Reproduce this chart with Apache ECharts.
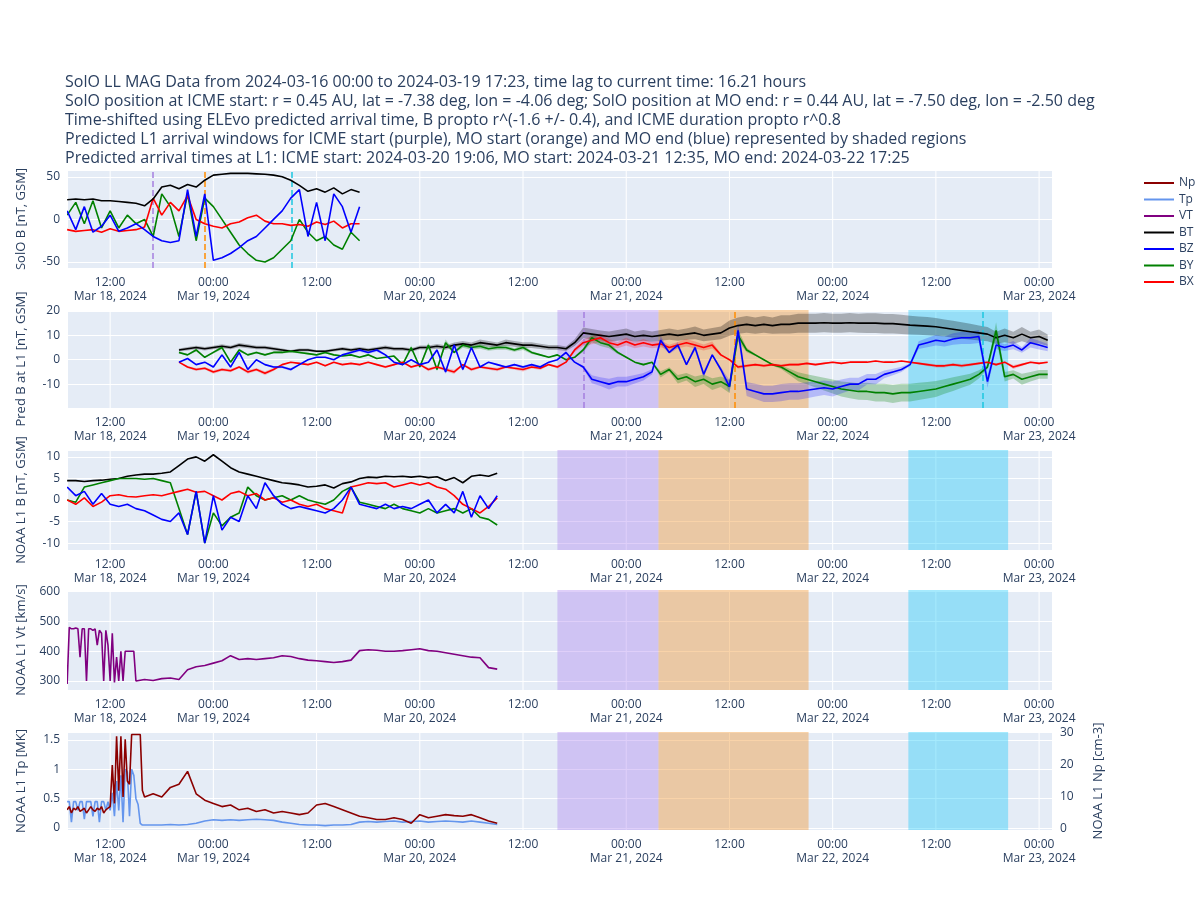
<!DOCTYPE html>
<html><head><meta charset="utf-8">
<script src="https://cdn.jsdelivr.net/npm/echarts@6/dist/echarts.min.js"></script>
<style>html,body{margin:0;padding:0;background:#fff}#c{width:1200px;height:900px}</style>
</head><body><div id="c"></div>
<script>
// hours relative to 2024-03-18 12:00 UTC
const solo_h0 = -5;
const soloBT = [23,24,23,24,22,22,21,20,19,16, 24,38,40,36,41,38,46,52,53,54, 54,54,53.5,53,52,50,46,40,33,36, 32,37,30,35,32];
const soloBZ = [10,-12,15,-15,-8,5,-14,-10,-5,-12, -20,-25,-27,-25,35,-20,30,-48,-45,-40, -33,-25,-20,-10,0,10,25,35,-20,20, -25,30,15,-15,15];
const soloBY = [5,20,-5,22,-10,10,-10,5,-5,0, -20,30,15,-20,30,-25,25,15,0,-15, -30,-40,-48,-50,-45,-35,-25,0,-15,-25, -20,-30,-35,-15,-25];
const soloBX = [-12,-14,-13,-12,-15,-11,-14,-13,-12,-9, 25,5,20,10,28,0,-5,-8,-10,-5, -3,2,5,-2,-5,-5,-7,-6,-8,-3, -6,-2,-10,-5,-5];

const pred_h0 = 8;
const predBT = [4,4.5,5,4.5,5,5.5,5,6,5.5,5, 5,4.5,4,3.5,4,4,3.5,3.5,4,4.5, 4,4.5,4,4.5,5,4.5,4.5,4,5,5, 5.5,5,6,6.5,6,7,6.5,6,7,6.5, 6,6,5.5,5,5,4.5,7,11,10.5,10, 9.5,10,10.5,9.5,10,9.5,10,10.5,10,10.5, 11,10,10.5,11,13,14,14.5,14,14.5,14, 14.5,14.5,15,15,15,15.2,15,15,15.2,15, 15,15,14.8,14.8,14.5,14.2,14,13.8,13.5,13, 12.5,12,11.5,11,10.5,9,10,9,10.5,9, 9.5,8];
const predBZ = [-1,0.5,-2,-1,-3,2,-3,3,-4,0, -2,-3,-3,-4,-2,0,1,1,0,2, 3,4,3,4,2,-1,-2,0,-2,-1, 4,-5,6,-4,5,-3,-1,-2,-3,-2, -3,-2,-3,-1,0,3,-1,-3,-8,-9, -10,-9,-9,-8,-7,-5,8,3,6,-2, 5,-6,2,-4,-11,12,-12,-13,-14,-14, -13.5,-13,-13,-12.5,-12,-11.5,-12,-11,-10,-10, -8,-8,-6,-5,-4,-2,6,7,8,7.5, 8.5,9,9,9.5,-9,6,5,6,4,7, 6,5];
const predBY = [3,2,4,1,3,5,-1,4,2,3, 2,3,3,3.5,3,2.5,2,3,2,1.5, 2,1,2,0.5,1,1.5,-2,5,-3,6, -4,7,3,6,5,5.5,4.5,5,5,4, 5,3,2,1,2,0,1,4,9,7, 6,3,1,-1,-2,-1,-6,-4,-8,-7, -9,-8,-10,-9,-11,10,4,2,0,-2, -3,-5,-7,-8,-9,-10,-11,-12,-12.5,-13, -13,-13.5,-13.5,-14,-13.5,-13.5,-13,-12.5,-12,-11, -10,-9,-8,-6,-3,12,-7,-6,-8,-7, -6,-6];
const predBX = [-1,-3,-4,-3.5,-5,-4,-4.5,-3,-5,-4, -5.5,-4,-2,-1,-1.5,-2,-1,-2.5,-1,-2, -1.5,-2,-1,-2,-3,-2,-1,-3,-2,-4, -3,-4,-5,-2,-4,-3,-3.5,-4,-3,-3.5, -4,-3,-3.5,-2,-3,-1,4,7,8,9, 7,6,7.5,6,7,6,6.5,5,6,7, 6,5,6,2,0,-3,-2.5,-2,-2.5,-2, -2.5,-2,-2,-1.5,-2,-1.5,-1,-1.5,-1,-1, -1,-0.5,-1,-1,-0.5,-1,-1.5,-2,-2.5,-2.5, -2,-2.5,-2,-1.5,-1,-2,-1,-3,-2,-1, -1.5,-1];
// relative uncertainty per 10-hour block of the prediction
const predUncert = [0.15,0.15,0.17,0.18,0.2,0.22,0.24,0.26,0.27,0.28,0.3];

const noaa_h0 = -5;
const noaaBT = [4.5,4.5,4.3,4.5,4.6,4.8,5,5.5,5.8,6, 6,6.2,6.5,8,9.5,10,9,10.5,9,7.5, 6.5,6,5.5,5,4.5,4,3.8,3.5,3,3.2, 3.5,2.8,3.8,4.2,5,5.3,5.2,5.5,5.4,5.5, 5.3,5.5,5.2,5.4,4.5,5.2,4,5.5,5.8,5.5, 6.2];
const noaaBZ = [3,1,2,-1,1.5,-1,-1.5,-1,-2,-2.5, -3.5,-4.5,-5,-3,-8,2,-10,1,-7,-4, -5,1,-2,4,1,-1,-2,-1.5,-2,-2.5, -3,-2,0,3,-1,-1.5,-2,-1,-2,-1.5, -2,-1,0,-3,-1,-3,2,-4,1,-2, 1];
const noaaBY = [0,-0.5,3,3.5,4,4.5,5,5,5,4.8, 5,4.5,4,-2,-8,2,-10,-3,-6,-4, -3,3,1,0,0.5,1,0,1,0,-0.5, -1,0,2,3,-0.5,-1,-1.5,-2,-1,-2, -2.5,-3,-2,-3,-2.5,-2,-3,-2,-4,-4.5, -5.8];
const noaaBX = [0,-1,0.5,-1.5,-0.5,1,1.2,0.8,0.7,1, 1.2,1,1.5,2,2.5,1.8,2,1,0,1.5, 2,1,1.5,0,0.5,-0.5,0,-1,-1.5,-1, -2,-2.5,-3,3,3.5,4,3.8,4,3,3.5, 4,3.5,4,3,2.5,1,-1,-2,-3,-1.5, 0.5];

const vtEarly_h0 = -5, vtEarly_step = 0.25;
const vtEarly = [290,480,475,475,478,475,380,475,475,300,475,475,470,475,420,470,460,300,470,420,300,460,295,380,300,400,300,400,400,400,400,400];
const vtLate_h0 = 3;
const vtLate = [300,305,302,308,310,305,338,348,352,360, 368,385,372,375,372,375,378,385,382,375, 370,368,365,362,365,370,402,405,403,400, 400,402,405,408,402,400,395,390,385,380, 378,345,340];

const plEarly_h0 = -5, plEarly_step = 0.25;
const tpEarly = [0.45,0.45,0.1,0.45,0.45,0.3,0.45,0.45,0.15,0.45,0.45,0.45,0.2,0.45,0.45,0.1,0.45,0.45,0.3,0.45, 0.3,0.6,0.2,0.8,0.3,0.9,0.1,1.0,0.95,0.2,1.0,0.9,0.5,0.4,0.08,0.05];
const npEarly = [6,7,5,6.5,6,7,5.5,6,6.5,5,6,7,6,5.5,6.5,6,7,5,6,6.5, 7,20,8,29,12,29,10,28,15,14,29.5,29.5,29.5,29.5,29.5,12];
const plLate_h0 = 4;
const tpLate = [0.05,0.05,0.05,0.06,0.05,0.06,0.08,0.12,0.14,0.13, 0.14,0.13,0.14,0.15,0.14,0.13,0.1,0.08,0.06,0.05, 0.05,0.04,0.05,0.05,0.06,0.1,0.11,0.1,0.11,0.12, 0.1,0.11,0.12,0.1,0.11,0.12,0.11,0.1,0.12,0.1, 0.08,0.06];
const npLate = [10,11,10,13,14,18,11,9,8,7, 7.5,6,6.5,5.5,6,5,5.5,5,4.5,5, 7.5,8,7,6,5,4,3.5,3,3,3.5, 3,1.8,4.5,3.5,4,4.5,4.2,4,4.5,3.5, 2.5,1.8];

const windows = [[52.0,63.75,'rgba(170,130,240,0.38)'],[63.75,81.2,'rgba(240,150,50,0.42)'],[92.8,104.4,'rgba(20,200,250,0.38)']];
const soloEvents = [[5.0,'#a57fe0'],[11.0,'#ff8c00'],[21.1,'#1cc6e0']];
const predEvents = [[55.1,'#a57fe0'],[72.6,'#ff8c00'],[101.4,'#1cc6e0']];
// x grid lines every 12 hours
const gridHours = [0,12,24,36,48,60,72,84,96,108];

const H = 3600e3, base = Date.UTC(2024,2,18,12);
const T = h => base + h*H;
const mk = (h0, step, arr) => arr.map((v,i)=>[T(h0+i*step), v]);

const C = {Np:'#8b0000',Tp:'#6495ed',VT:'#800080',BT:'#000000',BZ:'#0000ff',BY:'#008000',BX:'#ff0000'};
const txt = '#2a3f5f';
const font = 'Open Sans';
const tops = [170,310,450,590,732], hts = [98,98,100,100,98];

const grids = tops.map((t,i)=>({left:68, width:984, top:t, height:hts[i], show:true, backgroundColor:'#E5ECF6', borderWidth:0}));
const lbl = {color:txt, fontFamily:font, fontSize:12, lineHeight:14, hideOverlap:false, showMinLabel:false, showMaxLabel:false};
const xMain = tops.map((t,i)=>({
  type:'time', gridIndex:i, min:T(-4.9), max:T(109.5), splitNumber:6, position:'bottom',
  axisLine:{show:false}, axisTick:{show:false}, splitLine:{show:false},
  axisLabel:Object.assign({}, lbl, {formatter:v=>{const d=new Date(v);
      return d.getUTCHours()===0 ? '00:00\nMar '+d.getUTCDate()+', 2024' : '';}})
}));
const xOver = tops.map((t,i)=>({
  type:'time', gridIndex:i, min:T(-4.9), max:T(109.5), splitNumber:10, position:'bottom', offset:0,
  axisLine:{show:false}, axisTick:{show:false}, splitLine:{show:false},
  axisLabel:Object.assign({}, lbl, {formatter:v=>{const d=new Date(v);
      if(d.getUTCHours()!==12) return '';
      return d.getUTCDate()===18 ? '12:00\nMar 18, 2024' : '12:00';}})
}));
function yax(i, min, max, split, name, extra){
  return Object.assign({type:'value', gridIndex:i, min, max, splitNumber:split, name, nameLocation:'middle', nameGap:40,
    nameTextStyle:{color:txt, fontFamily:font, fontSize:13},
    axisLine:{show:false}, axisTick:{show:false}, splitLine:{lineStyle:{color:'#fff', width:1}},
    axisLabel:{color:txt, fontFamily:font, fontSize:12, showMinLabel:false, showMaxLabel:false}}, extra||{});
}
const yAxes = [
  yax(0,-57,58,2,'SolO B [nT, GSM]'),
  yax(1,-19.8,20.4,4,'Pred B at L1 [nT, GSM]'),
  yax(2,-11.6,11.6,4,'NOAA L1 B [nT, GSM]'),
  yax(3,270,605,3,'NOAA L1 Vt [km/s]'),
  yax(4,-0.034,1.636,3,'NOAA L1 Tp [MK]'),
  yax(4,-0.3,30.3,3,'NOAA L1 Np [cm-3]',{position:'right', nameRotate:90, nameGap:40, splitLine:{show:false}})
];

const series = [];
const halfPx = 0.06; // hours, ~half a pixel
[0,1,2,3,4].forEach(i=>series.push({type:'line', xAxisIndex:i, yAxisIndex:i, data:[], z:0, silent:true,
  markArea:{silent:true, animation:false,
    data: gridHours.map(h=>[{xAxis:T(h-halfPx), itemStyle:{color:'#ffffff'}},{xAxis:T(h+halfPx)}])}}));
function line(name, gi, yi, data, w){
  series.push({type:'line', name, xAxisIndex:gi, yAxisIndex:yi, data, showSymbol:false, symbol:'none',
    lineStyle:{color:C[name], width:w||1.6}, itemStyle:{color:C[name]}, z:5, animation:false});
}
function shading(gi, yi){
  series.push({type:'line', xAxisIndex:gi, yAxisIndex:yi, data:[], z:3, silent:true,
    markArea:{silent:true, data: windows.map(w=>[{xAxis:T(w[0]), itemStyle:{color:w[2]}},{xAxis:T(w[1])}])}});
}
function vlines(gi, yi, ev){
  series.push({type:'line', xAxisIndex:gi, yAxisIndex:yi, data:[], z:6, silent:true,
    markLine:{silent:true, symbol:'none', label:{show:false},
      data: ev.map(e=>({xAxis:T(e[0]), lineStyle:{color:e[1], type:'dashed', width:1.5}}))}});
}
line('BY',0,0,mk(solo_h0,1,soloBY)); line('BX',0,0,mk(solo_h0,1,soloBX)); line('BZ',0,0,mk(solo_h0,1,soloBZ)); line('BT',0,0,mk(solo_h0,1,soloBT));
vlines(0,0,soloEvents);
shading(1,1);
const bandCol = {BT:'rgba(0,0,0,0.38)',BZ:'rgba(0,0,255,0.3)',BY:'rgba(0,128,0,0.38)',BX:'rgba(255,0,0,0.3)'};
function band(name, arr){
  const lo=[], df=[];
  arr.forEach((v,i)=>{const h=pred_h0+i; const f=predUncert[Math.min(predUncert.length-1,Math.floor((h-pred_h0)/10))];
    lo.push([T(h), v-Math.abs(v)*f]); df.push([T(h), 2*Math.abs(v)*f]);});
  series.push({type:'line', xAxisIndex:1, yAxisIndex:1, data:lo, stack:'s'+name, stackStrategy:'all', symbol:'none', lineStyle:{opacity:0}, z:4, silent:true});
  series.push({type:'line', xAxisIndex:1, yAxisIndex:1, data:df, stack:'s'+name, stackStrategy:'all', symbol:'none', lineStyle:{opacity:0}, areaStyle:{color:bandCol[name]}, z:4, silent:true});
}
band('BT',predBT); band('BY',predBY); band('BX',predBX); band('BZ',predBZ);
line('BT',1,1,mk(pred_h0,1,predBT)); line('BY',1,1,mk(pred_h0,1,predBY)); line('BX',1,1,mk(pred_h0,1,predBX)); line('BZ',1,1,mk(pred_h0,1,predBZ));
vlines(1,1,predEvents);
shading(2,2);
line('BT',2,2,mk(noaa_h0,1,noaaBT)); line('BY',2,2,mk(noaa_h0,1,noaaBY)); line('BX',2,2,mk(noaa_h0,1,noaaBX)); line('BZ',2,2,mk(noaa_h0,1,noaaBZ));
shading(3,3);
line('VT',3,3,mk(vtEarly_h0,vtEarly_step,vtEarly).concat(mk(vtLate_h0,1,vtLate)));
shading(4,4);
line('Tp',4,4,mk(plEarly_h0,plEarly_step,tpEarly).concat(mk(plLate_h0,1,tpLate)));
line('Np',4,5,mk(plEarly_h0,plEarly_step,npEarly).concat(mk(plLate_h0,1,npLate)));

const title = [
 'SolO LL MAG Data from 2024-03-16 00:00 to 2024-03-19 17:23, time lag to current time: 16.21 hours',
 'SolO position at ICME start: r = 0.45 AU, lat = -7.38 deg, lon = -4.06 deg; SolO position at MO end: r = 0.44 AU, lat = -7.50 deg, lon = -2.50 deg',
 'Time-shifted using ELEvo predicted arrival time, B propto r^(-1.6 +/- 0.4), and ICME duration propto r^0.8',
 'Predicted L1 arrival windows for ICME start (purple), MO start (orange) and MO end (blue) represented by shaded regions',
 'Predicted arrival times at L1: ICME start: 2024-03-20 19:06, MO start: 2024-03-21 12:35, MO end: 2024-03-22 17:25'
].join('\n');

const chart = echarts.init(document.getElementById('c'), null, {renderer:'canvas'});
chart.setOption({
  useUTC:true, animation:false, backgroundColor:'#fff',
  title:{text:title, left:60, top:68, textStyle:{color:txt, fontFamily:font, fontSize:16, fontWeight:'normal', lineHeight:19}},
  legend:{data:['Np','Tp','VT','BT','BZ','BY','BX'], orient:'vertical', left:1138, top:172, itemWidth:30, itemHeight:10, itemGap:4.5,
    itemStyle:{opacity:0}, textStyle:{color:txt, fontFamily:font, fontSize:12}, selectedMode:false},
  grid:grids, xAxis:xMain.concat(xOver), yAxis:yAxes, series
});
</script></body></html>
